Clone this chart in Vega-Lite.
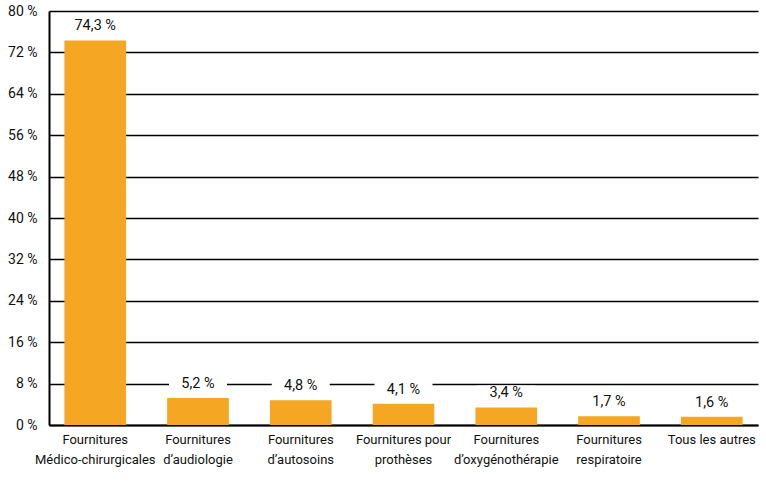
{
  "$schema": "https://vega.github.io/schema/vega-lite/v6.json",
  "width": 709,
  "height": 414,
  "autosize": {"type": "none"},
  "padding": {"left": 49, "top": 11, "right": 8, "bottom": 58},
  "background": "white",
  "data": {
    "values": [
      {"cat": "Fournitures|Médico-chirurgicales", "v": 74.3, "lab": "74,3 %"},
      {"cat": "Fournitures|d’audiologie", "v": 5.2, "lab": "5,2 %"},
      {"cat": "Fournitures|d’autosoins", "v": 4.8, "lab": "4,8 %"},
      {"cat": "Fournitures pour|prothèses", "v": 4.1, "lab": "4,1 %"},
      {"cat": "Fournitures|d’oxygénothérapie", "v": 3.4, "lab": "3,4 %"},
      {"cat": "Fournitures|respiratoire", "v": 1.7, "lab": "1,7 %"},
      {"cat": "Tous les autres", "v": 1.6, "lab": "1,6 %"}
    ]
  },
  "encoding": {
    "x": {
      "field": "cat", "type": "nominal", "sort": null,
      "scale": {"paddingInner": 0.4, "paddingOuter": 0.15},
      "axis": {
        "title": null, "labelAngle": 0, "ticks": false,
        "domainColor": "black", "domainWidth": 2,
        "labelExpr": "split(datum.label, '|')",
        "labelFont": "Roboto", "labelFontSize": 13,
        "labelColor": "#111111", "labelPadding": 8, "labelLineHeight": 20,
        "labelBaseline": "top"
      }
    },
    "y": {
      "field": "v", "type": "quantitative",
      "scale": {"domain": [0, 80], "nice": false},
      "axis": {
        "title": null, "values": [0, 8, 16, 24, 32, 40, 48, 56, 64, 72, 80],
        "labelExpr": "datum.value + ' %'", "ticks": false,
        "domainColor": "black", "domainWidth": 2,
        "gridColor": "black", "gridWidth": 1.5, "gridOpacity": 1,
        "labelFont": "Roboto", "labelFontSize": 14,
        "labelColor": "#111111", "labelPadding": 12
      }
    }
  },
  "layer": [
    {"mark": {"type": "bar", "color": "#F5A623"}},
    {"mark": {"type": "tick", "color": "white", "opacity": 1, "thickness": 16, "size": 58, "yOffset": -14}},
    {
      "mark": {"type": "text", "yOffset": -14, "baseline": "middle", "font": "Roboto", "fontSize": 14.5, "color": "#111111"},
      "encoding": {"text": {"field": "lab"}}
    }
  ],
  "config": {"view": {"stroke": null}}
}
